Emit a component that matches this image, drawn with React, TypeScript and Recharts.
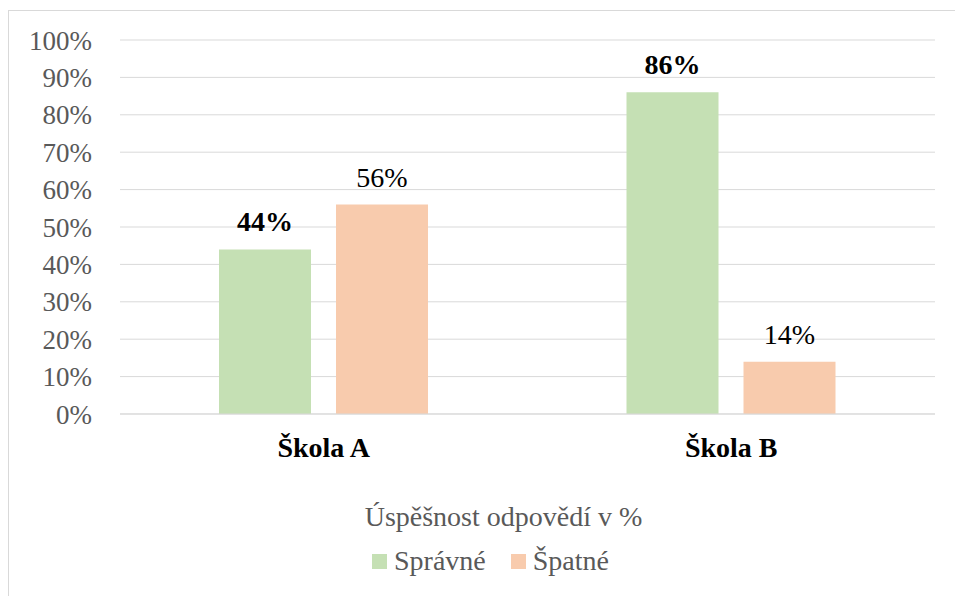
import { BarChart, Bar, XAxis, YAxis, CartesianGrid, LabelList, Legend } from "recharts";

const schools = ["Škola A", "Škola B"];
const spravne = [44, 86];
const spatne = [56, 14];
const percentTicks = [0, 10, 20, 30, 40, 50, 60, 70, 80, 90, 100];
const legendTitle = "Úspěšnost odpovědí v %";

const data = schools.map((name, i) => ({
  name,
  spravne: spravne[i],
  spatne: spatne[i],
}));

const FONT = "Liberation Serif, Tinos, Times New Roman, DejaVu Serif, serif";

function LegendBox({ payload }: any) {
  return (
    <div
      style={{
        height: 114,
        boxSizing: "border-box",
        paddingTop: 29,
        fontFamily: FONT,
        color: "#595959",
        fontSize: 28,
      }}
    >
      <div style={{ height: 32, lineHeight: "32px", paddingLeft: 43, textAlign: "center" }}>{legendTitle}</div>
      <div
        style={{
          marginTop: 12,
          height: 32,
          paddingLeft: 17,
          display: "flex",
          justifyContent: "center",
          alignItems: "center",
          gap: 25,
        }}
      >
        {(payload || []).map((p: any) => (
          <span key={p.value} style={{ display: "flex", alignItems: "center" }}>
            <span style={{ width: 15, height: 15, background: p.color, marginRight: 7, display: "inline-block" }} />
            {p.value}
          </span>
        ))}
      </div>
    </div>
  );
}

export default function App() {
  return (
    <div
      style={{
        position: "fixed",
        left: 8,
        top: 10,
        width: 947,
        height: 586,
        borderTop: "1px solid #D9D9D9",
        borderLeft: "1px solid #D9D9D9",
        background: "#fff",
        fontFamily: FONT,
      }}
    >
      <BarChart
        width={946}
        height={585}
        data={data}
        margin={{ top: 29, right: 20, bottom: 10, left: 0 }}
        barSize={92}
        barGap={25}
      >
        <CartesianGrid vertical={false} stroke="#D9D9D9" />
        <XAxis
          dataKey="name"
          height={58}
          tickSize={0}
          tickMargin={23}
          axisLine={{ stroke: "#D9D9D9" }}
          tick={{ fill: "#000", fontSize: 28, fontWeight: "bold", fontFamily: FONT }}
        />
        <YAxis
          width={111}
          domain={[0, 100]}
          ticks={percentTicks}
          interval={0}
          tickFormatter={(v: number) => `${v}%`}
          axisLine={false}
          tickLine={false}
          tickSize={0}
          tickMargin={28}
          tick={{ fill: "#595959", fontSize: 27, fontFamily: FONT }}
        />
        <Legend verticalAlign="bottom" content={<LegendBox />} wrapperStyle={{ left: 0, width: 946 }} />
        <Bar dataKey="spravne" name="Správné" fill="#C5E0B4" isAnimationActive={false}>
          <LabelList
            dataKey="spravne"
            position="top"
            offset={18}
            formatter={(v: any) => `${v}%`}
            style={{ fill: "#000", fontSize: 28, fontWeight: "bold", fontFamily: FONT }}
          />
        </Bar>
        <Bar dataKey="spatne" name="Špatné" fill="#F8CBAD" isAnimationActive={false}>
          <LabelList
            dataKey="spatne"
            position="top"
            offset={18}
            formatter={(v: any) => `${v}%`}
            style={{ fill: "#000", fontSize: 28, fontFamily: FONT }}
          />
        </Bar>
      </BarChart>
    </div>
  );
}
